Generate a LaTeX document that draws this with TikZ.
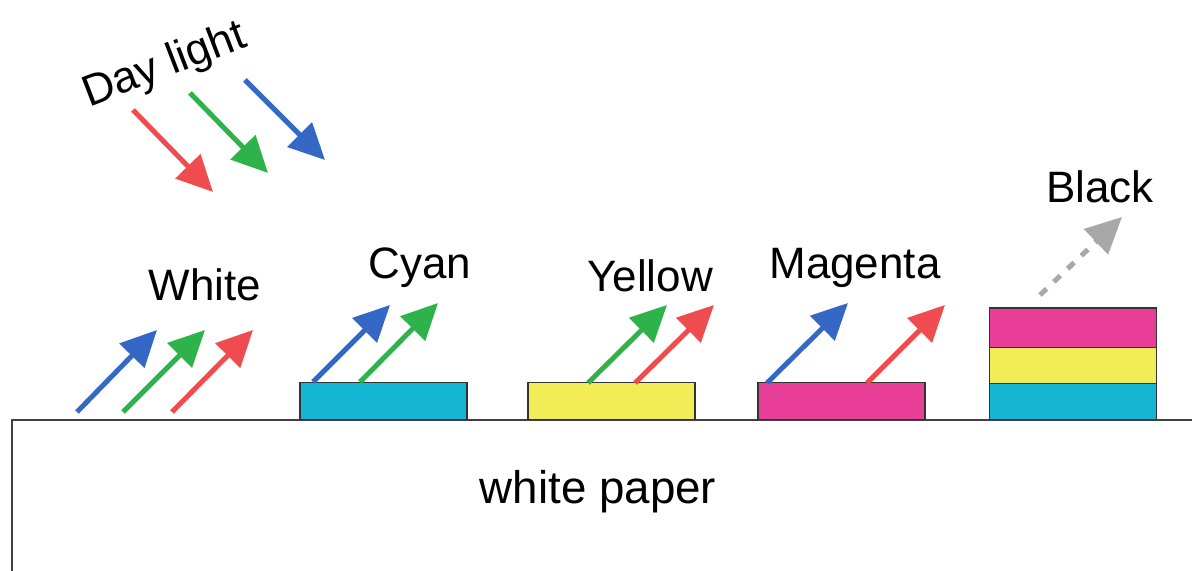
\documentclass[tikz,border=0pt]{standalone}
\usepackage{fontspec}
\setmainfont{Liberation Sans}
\usepackage{xcolor}
\usetikzlibrary{arrows.meta, positioning}
\definecolor{rayred}{RGB}{238, 76, 78}
\definecolor{raygreen}{RGB}{46, 178, 74}
\definecolor{rayblue}{RGB}{52, 104, 196}
\definecolor{inkcyan}{RGB}{20, 182, 212}
\definecolor{inkyellow}{RGB}{242, 236, 86}
\definecolor{inkmagenta}{RGB}{232, 62, 152}
\definecolor{raygray}{RGB}{168, 168, 168}

\begin{document}
\begin{tikzpicture}[
    x=0.01cm, y=-0.01cm,
    arr/.style={-{Triangle[length=0.36cm, width=0.34cm]}, line width=0.05cm, #1},
    ink/.style={rectangle, draw=black!80, fill=#1, line width=0.4pt, minimum width=1.67cm, minimum height=0.37cm, inner sep=0pt, outer sep=0pt},
    lbl/.style={font=\fontsize{12.5}{14}\selectfont, inner sep=0pt}
]
\useasboundingbox (0,0) rectangle (1192,571);

% paper
\draw[black!75, line width=0.6pt] (12,571) -- (12,420) -- (1192,420);
\node[lbl, font=\fontsize{13}{15}\selectfont] (paper) at (598,492) {white paper};

% incoming day light
\node[lbl, rotate=21] (day) at (165,66) {Day light};
\draw[arr=rayred] (133,110) -- (213,192);
\draw[arr=raygreen] (190,93) -- (268,173);
\draw[arr=rayblue] (245,80) -- (325,160);

% white: everything reflected
\node[lbl] (white) at (205,285) {White};
\draw[arr=rayblue] (77,412) -- (157,330);
\draw[arr=raygreen] (123,412) -- (205,330);
\draw[arr=rayred] (172,412) -- (253,330);

% cyan layer
\node[ink=inkcyan] (cyan) at (383.5,401) {};
\node[lbl] (cyanlbl) at (420,268) {Cyan};
\draw[arr=rayblue] (313,382) -- (390,305);
\draw[arr=raygreen] (360,382) -- (438,303);

% yellow layer
\node[ink=inkyellow] (yellow) at (611.5,401) {};
\node[lbl] (yellowlbl) at (650,276) {Yellow};
\draw[arr=raygreen] (588,383) -- (667,305);
\draw[arr=rayred] (635,383) -- (714,305);

% magenta layer
\node[ink=inkmagenta] (magenta) at (841.5,401) {};
\node[lbl] (magentalbl) at (855,268) {Magenta};
\draw[arr=rayblue] (767,383) -- (848,303);
\draw[arr=rayred] (867,383) -- (945,305);

% stacked layers
\node[ink=inkcyan, minimum height=0.365cm] (stackc) at (1073,401.5) {};
\node[ink=inkyellow, minimum height=0.36cm, above=0pt of stackc] (stacky) {};
\node[ink=inkmagenta, minimum height=0.39cm, above=0pt of stacky] (stackm) {};
\node[lbl] (black) at (1100,187) {Black};
\draw[arr=raygray, dash pattern=on 0.09cm off 0.1cm] (1040,295) -- (1122,217);
\end{tikzpicture}
\end{document}
